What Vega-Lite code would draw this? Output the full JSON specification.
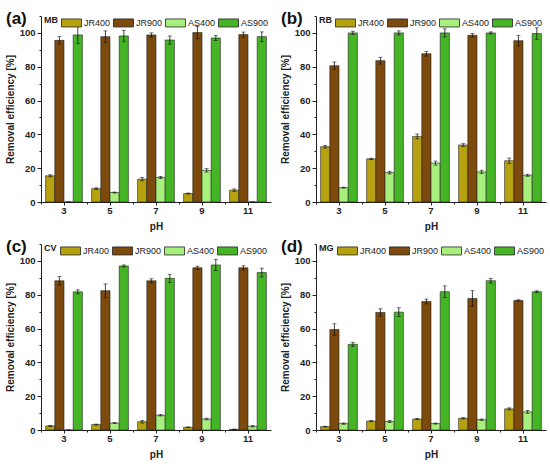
{
  "$schema": "https://vega.github.io/schema/vega-lite/v6.json",
  "background": "white",
  "padding": {"left": 5, "top": 10, "right": 2, "bottom": 2},
  "config": {
    "font": "Liberation Sans",
    "view": {"stroke": null},
    "title": {"anchor": "start", "frame": "group", "dx": -35, "offset": 0, "dy": 20, "baseline": "alphabetic", "fontSize": 17, "fontWeight": "bold", "color": "#111"},
    "axis": {
      "grid": false,
      "domainColor": "#222",
      "tickColor": "#222",
      "labelColor": "#222",
      "titleColor": "#222",
      "labelFontWeight": "bold",
      "labelFontSize": 9.5,
      "labelOverlap": false,
      "titleFontWeight": "bold",
      "titleFontSize": 10,
      "tickSize": 4
    },
    "axisX": {"labelAngle": 0, "tickSize": 3, "labelPadding": 0, "titlePadding": 7},
    "legend": {
      "orient": "none",
      "legendX": 3,
      "legendY": -4,
      "direction": "horizontal",
      "columns": 4,
      "titleOrient": "left",
      "titleAnchor": "middle",
      "titleBaseline": "middle",
      "titleFontSize": 9,
      "titleFontWeight": "bold",
      "titleColor": "#222",
      "titlePadding": 3,
      "symbolType": "M-1,-0.4H1V0.4H-1Z",
      "symbolSize": 400,
      "symbolStrokeColor": "#222",
      "symbolStrokeWidth": 0.8,
      "symbolOpacity": 1,
      "labelFontSize": 9,
      "labelColor": "#222",
      "labelOffset": 2,
      "columnPadding": 0
    }
  },
  "data": {
    "values": [
      {"dye": "MB", "pH": 3, "sample": "JR400", "value": 15.5, "err": 0.6},
      {"dye": "MB", "pH": 3, "sample": "JR900", "value": 95.6, "err": 2.2},
      {"dye": "MB", "pH": 3, "sample": "AS400", "value": 0, "err": 0},
      {"dye": "MB", "pH": 3, "sample": "AS900", "value": 98.8, "err": 5},
      {"dye": "MB", "pH": 5, "sample": "JR400", "value": 7.9, "err": 0.5},
      {"dye": "MB", "pH": 5, "sample": "JR900", "value": 97.8, "err": 3.4},
      {"dye": "MB", "pH": 5, "sample": "AS400", "value": 5.6, "err": 0.3},
      {"dye": "MB", "pH": 5, "sample": "AS900", "value": 98.2, "err": 3.4},
      {"dye": "MB", "pH": 7, "sample": "JR400", "value": 13.5, "err": 1},
      {"dye": "MB", "pH": 7, "sample": "JR900", "value": 98.8, "err": 1.2},
      {"dye": "MB", "pH": 7, "sample": "AS400", "value": 14.5, "err": 0.6},
      {"dye": "MB", "pH": 7, "sample": "AS900", "value": 95.8, "err": 2.4},
      {"dye": "MB", "pH": 9, "sample": "JR400", "value": 5.0, "err": 0.3},
      {"dye": "MB", "pH": 9, "sample": "JR900", "value": 100.2, "err": 3.6},
      {"dye": "MB", "pH": 9, "sample": "AS400", "value": 18.7, "err": 1},
      {"dye": "MB", "pH": 9, "sample": "AS900", "value": 97.0, "err": 1.5},
      {"dye": "MB", "pH": 11, "sample": "JR400", "value": 7.0, "err": 0.7},
      {"dye": "MB", "pH": 11, "sample": "JR900", "value": 99.0, "err": 1.5},
      {"dye": "MB", "pH": 11, "sample": "AS400", "value": 0, "err": 0},
      {"dye": "MB", "pH": 11, "sample": "AS900", "value": 97.8, "err": 2.8},

      {"dye": "RB", "pH": 3, "sample": "JR400", "value": 32.7, "err": 0.8},
      {"dye": "RB", "pH": 3, "sample": "JR900", "value": 80.6, "err": 2.2},
      {"dye": "RB", "pH": 3, "sample": "AS400", "value": 8.5, "err": 0.3},
      {"dye": "RB", "pH": 3, "sample": "AS900", "value": 100, "err": 1},
      {"dye": "RB", "pH": 5, "sample": "JR400", "value": 25.5, "err": 0.4},
      {"dye": "RB", "pH": 5, "sample": "JR900", "value": 83.6, "err": 2},
      {"dye": "RB", "pH": 5, "sample": "AS400", "value": 17.4, "err": 0.8},
      {"dye": "RB", "pH": 5, "sample": "AS900", "value": 100, "err": 1.2},
      {"dye": "RB", "pH": 7, "sample": "JR400", "value": 38.8, "err": 1.4},
      {"dye": "RB", "pH": 7, "sample": "JR900", "value": 87.7, "err": 1.4},
      {"dye": "RB", "pH": 7, "sample": "AS400", "value": 23.0, "err": 1.2},
      {"dye": "RB", "pH": 7, "sample": "AS900", "value": 100, "err": 2.4},
      {"dye": "RB", "pH": 9, "sample": "JR400", "value": 33.7, "err": 0.8},
      {"dye": "RB", "pH": 9, "sample": "JR900", "value": 98.6, "err": 1},
      {"dye": "RB", "pH": 9, "sample": "AS400", "value": 17.8, "err": 1},
      {"dye": "RB", "pH": 9, "sample": "AS900", "value": 100, "err": 0.6},
      {"dye": "RB", "pH": 11, "sample": "JR400", "value": 24.4, "err": 1.6},
      {"dye": "RB", "pH": 11, "sample": "JR900", "value": 95.4, "err": 3.2},
      {"dye": "RB", "pH": 11, "sample": "AS400", "value": 15.8, "err": 0.6},
      {"dye": "RB", "pH": 11, "sample": "AS900", "value": 99.6, "err": 3.4},

      {"dye": "CV", "pH": 3, "sample": "JR400", "value": 2.4, "err": 0.3},
      {"dye": "CV", "pH": 3, "sample": "JR900", "value": 88.2, "err": 2.5},
      {"dye": "CV", "pH": 3, "sample": "AS400", "value": 0, "err": 0},
      {"dye": "CV", "pH": 3, "sample": "AS900", "value": 81.7, "err": 1.2},
      {"dye": "CV", "pH": 5, "sample": "JR400", "value": 3.2, "err": 0.3},
      {"dye": "CV", "pH": 5, "sample": "JR900", "value": 82.4, "err": 4},
      {"dye": "CV", "pH": 5, "sample": "AS400", "value": 4.1, "err": 0.3},
      {"dye": "CV", "pH": 5, "sample": "AS900", "value": 97.0, "err": 0.6},
      {"dye": "CV", "pH": 7, "sample": "JR400", "value": 4.9, "err": 0.8},
      {"dye": "CV", "pH": 7, "sample": "JR900", "value": 88.2, "err": 1.2},
      {"dye": "CV", "pH": 7, "sample": "AS400", "value": 8.7, "err": 0.4},
      {"dye": "CV", "pH": 7, "sample": "AS900", "value": 89.7, "err": 2.4},
      {"dye": "CV", "pH": 9, "sample": "JR400", "value": 1.6, "err": 0.2},
      {"dye": "CV", "pH": 9, "sample": "JR900", "value": 95.9, "err": 1},
      {"dye": "CV", "pH": 9, "sample": "AS400", "value": 6.5, "err": 0.5},
      {"dye": "CV", "pH": 9, "sample": "AS900", "value": 97.6, "err": 3.2},
      {"dye": "CV", "pH": 11, "sample": "JR400", "value": 0.4, "err": 0.1},
      {"dye": "CV", "pH": 11, "sample": "JR900", "value": 95.9, "err": 1.2},
      {"dye": "CV", "pH": 11, "sample": "AS400", "value": 2.2, "err": 0.4},
      {"dye": "CV", "pH": 11, "sample": "AS900", "value": 93.1, "err": 2.6},

      {"dye": "MG", "pH": 3, "sample": "JR400", "value": 2.0, "err": 0.2},
      {"dye": "MG", "pH": 3, "sample": "JR900", "value": 59.4, "err": 3.4},
      {"dye": "MG", "pH": 3, "sample": "AS400", "value": 3.8, "err": 0.4},
      {"dye": "MG", "pH": 3, "sample": "AS900", "value": 50.7, "err": 1.2},
      {"dye": "MG", "pH": 5, "sample": "JR400", "value": 5.3, "err": 0.4},
      {"dye": "MG", "pH": 5, "sample": "JR900", "value": 69.5, "err": 2.2},
      {"dye": "MG", "pH": 5, "sample": "AS400", "value": 5.0, "err": 0.6},
      {"dye": "MG", "pH": 5, "sample": "AS900", "value": 69.7, "err": 2.6},
      {"dye": "MG", "pH": 7, "sample": "JR400", "value": 6.5, "err": 0.4},
      {"dye": "MG", "pH": 7, "sample": "JR900", "value": 76.0, "err": 1.4},
      {"dye": "MG", "pH": 7, "sample": "AS400", "value": 3.8, "err": 0.3},
      {"dye": "MG", "pH": 7, "sample": "AS900", "value": 81.8, "err": 3.4},
      {"dye": "MG", "pH": 9, "sample": "JR400", "value": 6.9, "err": 0.4},
      {"dye": "MG", "pH": 9, "sample": "JR900", "value": 77.8, "err": 4.6},
      {"dye": "MG", "pH": 9, "sample": "AS400", "value": 6.1, "err": 0.4},
      {"dye": "MG", "pH": 9, "sample": "AS900", "value": 88.3, "err": 1.4},
      {"dye": "MG", "pH": 11, "sample": "JR400", "value": 12.5, "err": 0.6},
      {"dye": "MG", "pH": 11, "sample": "JR900", "value": 76.6, "err": 0.4},
      {"dye": "MG", "pH": 11, "sample": "AS400", "value": 10.7, "err": 0.8},
      {"dye": "MG", "pH": 11, "sample": "AS900", "value": 81.8, "err": 0.5}
    ]
  },
  "columns": 2,
  "spacing": {"row": 6, "column": 9},
  "resolve": {"scale": {"color": "independent"}, "legend": {"color": "independent"}},
  "concat": [
    {
      "title": "(a)",
      "width": 230,
      "height": 186,
      "transform": [{"filter": "datum.dye === 'MB'"}],
      "encoding": {
        "xOffset": {"field": "sample", "sort": ["JR400", "JR900", "AS400", "AS900"]}
      },
      "layer": [
        {
          "mark": {"type": "bar", "stroke": "#222", "strokeWidth": 0.6},
          "encoding": {
            "x": {"field": "pH", "type": "ordinal", "sort": [3, 5, 7, 9, 11], "title": "pH", "scale": {"paddingInner": 0.2, "paddingOuter": 0.1}, "axis": {"orient": "bottom"}},
            "y": {"field": "value", "type": "quantitative", "title": "Removal efficiency [%]", "scale": {"domain": [0, 110], "nice": false}, "axis": {"orient": "left", "values": [0, 20, 40, 60, 80, 100]}},
            "color": {"field": "sample", "type": "nominal", "scale": {"domain": ["JR400", "JR900", "AS400", "AS900"], "range": ["#b6a20f", "#7b4a0c", "#a8f07e", "#45b525"]}, "legend": {"title": "MB"}}
          }
        },
        {
          "mark": {"type": "errorbar", "color": "#111", "thickness": 0.8, "ticks": {"size": 4}},
          "encoding": {
            "x": {"field": "pH", "type": "ordinal", "sort": [3, 5, 7, 9, 11], "axis": {"orient": "bottom", "title": null, "labels": false, "domain": false, "tickSize": 2, "bandPosition": -0.125}},
            "y": {"field": "value", "type": "quantitative", "axis": {"orient": "left", "title": null, "labels": false, "domain": false, "tickSize": 2, "values": [10, 30, 50, 70, 90, 110]}},
            "yError": {"field": "err"}
          }
        }
      ],
      "resolve": {"axis": {"x": "independent", "y": "independent"}}
    },
    {
      "title": "(b)",
      "width": 230,
      "height": 186,
      "transform": [{"filter": "datum.dye === 'RB'"}],
      "encoding": {
        "xOffset": {"field": "sample", "sort": ["JR400", "JR900", "AS400", "AS900"]}
      },
      "layer": [
        {
          "mark": {"type": "bar", "stroke": "#222", "strokeWidth": 0.6},
          "encoding": {
            "x": {"field": "pH", "type": "ordinal", "sort": [3, 5, 7, 9, 11], "title": "pH", "scale": {"paddingInner": 0.2, "paddingOuter": 0.1}, "axis": {"orient": "bottom"}},
            "y": {"field": "value", "type": "quantitative", "title": "Removal efficiency [%]", "scale": {"domain": [0, 110], "nice": false}, "axis": {"orient": "left", "values": [0, 20, 40, 60, 80, 100]}},
            "color": {"field": "sample", "type": "nominal", "scale": {"domain": ["JR400", "JR900", "AS400", "AS900"], "range": ["#b6a20f", "#7b4a0c", "#a8f07e", "#45b525"]}, "legend": {"title": "RB"}}
          }
        },
        {
          "mark": {"type": "errorbar", "color": "#111", "thickness": 0.8, "ticks": {"size": 4}},
          "encoding": {
            "x": {"field": "pH", "type": "ordinal", "sort": [3, 5, 7, 9, 11], "axis": {"orient": "bottom", "title": null, "labels": false, "domain": false, "tickSize": 2, "bandPosition": -0.125}},
            "y": {"field": "value", "type": "quantitative", "axis": {"orient": "left", "title": null, "labels": false, "domain": false, "tickSize": 2, "values": [10, 30, 50, 70, 90, 110]}},
            "yError": {"field": "err"}
          }
        }
      ],
      "resolve": {"axis": {"x": "independent", "y": "independent"}}
    },
    {
      "title": "(c)",
      "width": 230,
      "height": 186,
      "transform": [{"filter": "datum.dye === 'CV'"}],
      "encoding": {
        "xOffset": {"field": "sample", "sort": ["JR400", "JR900", "AS400", "AS900"]}
      },
      "layer": [
        {
          "mark": {"type": "bar", "stroke": "#222", "strokeWidth": 0.6},
          "encoding": {
            "x": {"field": "pH", "type": "ordinal", "sort": [3, 5, 7, 9, 11], "title": "pH", "scale": {"paddingInner": 0.2, "paddingOuter": 0.1}, "axis": {"orient": "bottom"}},
            "y": {"field": "value", "type": "quantitative", "title": "Removal efficiency [%]", "scale": {"domain": [0, 110], "nice": false}, "axis": {"orient": "left", "values": [0, 20, 40, 60, 80, 100]}},
            "color": {"field": "sample", "type": "nominal", "scale": {"domain": ["JR400", "JR900", "AS400", "AS900"], "range": ["#b6a20f", "#7b4a0c", "#a8f07e", "#45b525"]}, "legend": {"title": "CV"}}
          }
        },
        {
          "mark": {"type": "errorbar", "color": "#111", "thickness": 0.8, "ticks": {"size": 4}},
          "encoding": {
            "x": {"field": "pH", "type": "ordinal", "sort": [3, 5, 7, 9, 11], "axis": {"orient": "bottom", "title": null, "labels": false, "domain": false, "tickSize": 2, "bandPosition": -0.125}},
            "y": {"field": "value", "type": "quantitative", "axis": {"orient": "left", "title": null, "labels": false, "domain": false, "tickSize": 2, "values": [10, 30, 50, 70, 90, 110]}},
            "yError": {"field": "err"}
          }
        }
      ],
      "resolve": {"axis": {"x": "independent", "y": "independent"}}
    },
    {
      "title": "(d)",
      "width": 230,
      "height": 186,
      "transform": [{"filter": "datum.dye === 'MG'"}],
      "encoding": {
        "xOffset": {"field": "sample", "sort": ["JR400", "JR900", "AS400", "AS900"]}
      },
      "layer": [
        {
          "mark": {"type": "bar", "stroke": "#222", "strokeWidth": 0.6},
          "encoding": {
            "x": {"field": "pH", "type": "ordinal", "sort": [3, 5, 7, 9, 11], "title": "pH", "scale": {"paddingInner": 0.2, "paddingOuter": 0.1}, "axis": {"orient": "bottom"}},
            "y": {"field": "value", "type": "quantitative", "title": "Removal efficiency [%]", "scale": {"domain": [0, 110], "nice": false}, "axis": {"orient": "left", "values": [0, 20, 40, 60, 80, 100]}},
            "color": {"field": "sample", "type": "nominal", "scale": {"domain": ["JR400", "JR900", "AS400", "AS900"], "range": ["#b6a20f", "#7b4a0c", "#a8f07e", "#45b525"]}, "legend": {"title": "MG"}}
          }
        },
        {
          "mark": {"type": "errorbar", "color": "#111", "thickness": 0.8, "ticks": {"size": 4}},
          "encoding": {
            "x": {"field": "pH", "type": "ordinal", "sort": [3, 5, 7, 9, 11], "axis": {"orient": "bottom", "title": null, "labels": false, "domain": false, "tickSize": 2, "bandPosition": -0.125}},
            "y": {"field": "value", "type": "quantitative", "axis": {"orient": "left", "title": null, "labels": false, "domain": false, "tickSize": 2, "values": [10, 30, 50, 70, 90, 110]}},
            "yError": {"field": "err"}
          }
        }
      ],
      "resolve": {"axis": {"x": "independent", "y": "independent"}}
    }
  ]
}
